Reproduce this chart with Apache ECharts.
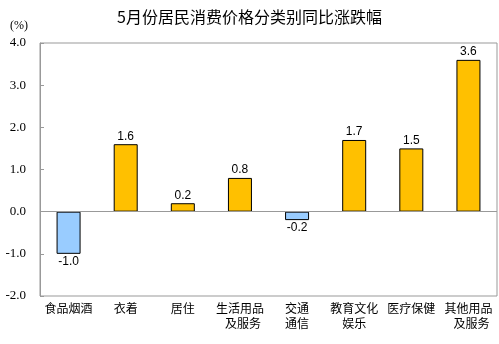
<!DOCTYPE html>
<html>
<head>
<meta charset="utf-8">
<script src="https://cdn.jsdelivr.net/npm/echarts@6/dist/echarts.min.js"></script>
<style>
  html, body { margin: 0; padding: 0; background: #fff; }
  #chart { width: 499px; height: 344px; }
</style>
</head>
<body>
<div id="chart"></div>
<script>
// 分类别同比涨跌幅 (%)
const categories = ['食品烟酒', '衣着', '居住', '生活用品\n\u2002及服务', '交通\n通信', '教育文化\n娱乐', '医疗保健', '其他用品\n\u2002及服务'];
const values = [-1.0, 1.6, 0.2, 0.8, -0.2, 1.7, 1.5, 3.6];
const yTicks = { min: -2, max: 4, interval: 1 };

const chart = echarts.init(document.getElementById('chart'), null, { renderer: 'canvas' });

chart.setOption({
  animation: false,
  backgroundColor: '#fff',
  title: {
    text: '5月份居民消费价格分类别同比涨跌幅',
    left: 'center',
    top: 4,
    textStyle: { fontFamily: 'Noto Sans CJK SC', fontSize: 16, fontWeight: 'normal', color: '#000' }
  },
  graphic: [{
    type: 'text',
    left: 10,
    top: 20,
    style: { text: '(%)', font: '12px "Liberation Serif"', fill: '#000' }
  }],
  grid: {
    left: 40, right: 2, top: 43, bottom: 48,
    show: true, borderColor: '#999', borderWidth: 1
  },
  xAxis: {
    type: 'category',
    data: categories,
    axisLine: { show: false },
    axisTick: { show: false },
    axisLabel: {
      interval: 0,
      margin: 5,
      color: '#000',
      fontFamily: 'Noto Sans CJK SC',
      fontSize: 12,
      lineHeight: 15
    }
  },
  yAxis: {
    type: 'value',
    min: yTicks.min, max: yTicks.max, interval: yTicks.interval,
    splitLine: { show: false },
    axisLine: { show: true, lineStyle: { color: '#999' } },
    axisTick: { show: true, inside: true, length: 4, lineStyle: { color: '#999' } },
    axisLabel: {
      margin: 14,
      color: '#000',
      fontFamily: 'Liberation Serif',
      fontSize: 13,
      formatter: v => v.toFixed(1)
    }
  },
  series: [{
    type: 'bar',
    data: values.map(v => ({
      value: v,
      itemStyle: { color: v >= 0 ? '#FFC000' : '#99CCFF' },
      label: { position: v >= 0 ? 'top' : 'bottom' }
    })),
    barWidth: 24,
    itemStyle: { borderColor: '#000', borderWidth: 1 },
    label: {
      show: true,
      distance: 2,
      color: '#000',
      fontFamily: 'Liberation Sans',
      fontSize: 12,
      formatter: p => p.value.toFixed(1)
    },
    markLine: {
      silent: true,
      symbol: 'none',
      label: { show: false },
      lineStyle: { color: '#999', type: 'solid', width: 1 },
      data: [{ yAxis: 0 }]
    }
  }]
});
</script>
</body>
</html>
